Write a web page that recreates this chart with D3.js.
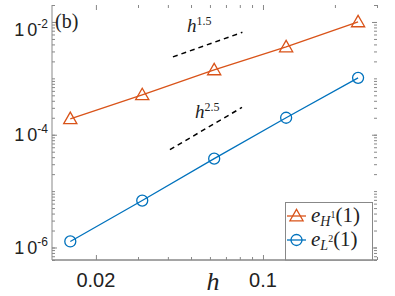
<!DOCTYPE html>
<html>
<head>
<meta charset="utf-8">
<script src="https://cdn.jsdelivr.net/npm/d3@7"></script>
<style>
  body { margin: 0; background: white; }
  .tick line { stroke: #888; }
  text { fill: #222; }
</style>
</head>
<body>
<div id="chart"></div>
<script>
var width = 395;
var height = 296;

// mesh sizes
var hValues = [1/64, 1/32, 1/16, 1/8, 1/4];
// errors
var errH1 = [1.92e-4, 5.1e-4, 1.41e-3, 3.6e-3, 1.0e-2];
var errL2 = [1.28e-6, 6.8e-6, 3.76e-5, 2.0e-4, 1.02e-3];

// slope guides (two end points each)
var guide15X = [0.042, 0.082];
var guide15Y = [2.4e-3, 6.55e-3];
var guide25X = [0.0408, 0.0817];
var guide25Y = [5.43e-5, 3.05e-4];

var xMajor = [0.02, 0.1];
var xMajorLabels = ["0.02", "0.1"];
var xMinor = [0.03, 0.04, 0.05, 0.06, 0.07, 0.08, 0.09, 0.2, 0.3];
var yMajor = [1e-6, 1e-4, 1e-2];
var yMajorExp = ["-6", "-4", "-2"];

var orange = "#D95319";
var blue = "#0072BD";
var axisGray = "#888";

var x = d3.scaleLog().domain([0.0131, 0.3]).range([52, 377]);
var y = d3.scaleLog().domain([6e-7, 2e-2]).range([260, 5]);

// minor ticks on y: k * 10^n inside the domain
var yMinor = [];
for (var n = -7; n <= -2; n++) {
  for (var k = 1; k <= 9; k++) {
    var v = k * Math.pow(10, n);
    if (v >= 6e-7 && v <= 2e-2) yMinor.push(v);
  }
}

var svg = d3.select("#chart")
  .append("svg")
  .attr("width", width)
  .attr("height", height);
svg.append("rect")
  .attr("width", "100%")
  .attr("height", "100%")
  .attr("fill", "white");

// ticks on all four sides, pointing inwards
function ticks(axis, vals, size, transform) {
  var g = svg.append("g")
    .attr("transform", transform)
    .call(axis.tickValues(vals).tickSize(-size).tickSizeOuter(0).tickFormat(""));
  g.select(".domain").remove();
  return g;
}
ticks(d3.axisBottom(x), xMinor, 3, "translate(0,260)");
ticks(d3.axisBottom(x), xMajor, 5, "translate(0,260)");
ticks(d3.axisTop(x), xMinor, 3, "translate(0,5)");
ticks(d3.axisTop(x), xMajor, 5, "translate(0,5)");
ticks(d3.axisLeft(y), yMinor, 3, "translate(52,0)");
ticks(d3.axisLeft(y), yMajor, 5, "translate(52,0)");
ticks(d3.axisRight(y), yMinor, 3, "translate(377,0)");
ticks(d3.axisRight(y), yMajor, 5, "translate(377,0)");

// left and bottom axis lines
svg.append("line").attr("x1", 52).attr("x2", 52).attr("y1", 5).attr("y2", 260)
  .attr("stroke", axisGray).attr("stroke-width", 1);
svg.append("line").attr("x1", 52).attr("x2", 377).attr("y1", 260).attr("y2", 260)
  .attr("stroke", axisGray).attr("stroke-width", 1);

// x tick labels
svg.selectAll(".xlab")
  .data(xMajor)
  .enter()
  .append("text")
  .attr("class", "xlab")
  .attr("x", function(d) { return x(d); })
  .attr("y", 287)
  .attr("text-anchor", "middle")
  .style("font-family", "Liberation Sans, Arial, sans-serif")
  .style("font-size", "20px")
  .text(function(d, i) { return xMajorLabels[i]; });

// y tick labels 10^n (the top one sits a little lower, as in the original)
var yLabelShift = [7, 6, 14];
var ylab = svg.selectAll(".ylab")
  .data(yMajor)
  .enter()
  .append("text")
  .attr("class", "ylab")
  .attr("x", 48)
  .attr("y", function(d, i) { return y(d) + yLabelShift[i]; })
  .attr("text-anchor", "end")
  .style("font-family", "Liberation Sans, Arial, sans-serif");
ylab.append("tspan")
  .style("font-size", "18px")
  .attr("letter-spacing", "3px")
  .text("1");
ylab.append("tspan")
  .style("font-size", "18px")
  .text("0");
ylab.append("tspan")
  .style("font-size", "12px")
  .attr("dy", -8)
  .text(function(d, i) { return yMajorExp[i]; });

// x axis label
svg.append("text")
  .attr("x", 213)
  .attr("y", 290)
  .attr("text-anchor", "middle")
  .style("font-family", "Liberation Serif, serif")
  .style("font-style", "italic")
  .style("font-size", "26px")
  .text("h");

// panel label
svg.append("text")
  .attr("x", 55)
  .attr("y", 28)
  .style("font-family", "Liberation Serif, serif")
  .style("font-size", "20px")
  .text("(b)");

// guide lines
var line = d3.line()
  .x(function(d) { return x(d[0]); })
  .y(function(d) { return y(d[1]); });

svg.append("path")
  .attr("d", line(d3.zip(guide15X, guide15Y)))
  .attr("fill", "none")
  .attr("stroke", "black")
  .attr("stroke-width", 1.5)
  .attr("stroke-dasharray", "5,4");
svg.append("path")
  .attr("d", line(d3.zip(guide25X, guide25Y)))
  .attr("fill", "none")
  .attr("stroke", "black")
  .attr("stroke-width", 1.5)
  .attr("stroke-dasharray", "5,4");

function powerLabel(px, py, exp) {
  var t = svg.append("text")
    .attr("x", px)
    .attr("y", py)
    .style("font-family", "Liberation Serif, serif");
  t.append("tspan").style("font-style", "italic").style("font-size", "19px").text("h");
  t.append("tspan").style("font-size", "12px").attr("dy", -7).text(exp);
}
powerLabel(187, 32, "1.5");
powerLabel(195, 118, "2.5");

// data series
var tri = d3.symbol().type(d3.symbolTriangle).size(75);

svg.append("path")
  .attr("d", line(d3.zip(hValues, errH1)))
  .attr("fill", "none")
  .attr("stroke", orange)
  .attr("stroke-width", 1.3);
svg.selectAll(".tri")
  .data(d3.zip(hValues, errH1))
  .enter()
  .append("path")
  .attr("class", "tri")
  .attr("d", tri)
  .attr("transform", function(d) { return "translate(" + x(d[0]) + "," + (y(d[1]) + 1) + ")"; })
  .attr("fill", "none")
  .attr("stroke", orange)
  .attr("stroke-width", 1.3);

svg.append("path")
  .attr("d", line(d3.zip(hValues, errL2)))
  .attr("fill", "none")
  .attr("stroke", blue)
  .attr("stroke-width", 1.3);
svg.selectAll(".circ")
  .data(d3.zip(hValues, errL2))
  .enter()
  .append("circle")
  .attr("class", "circ")
  .attr("cx", function(d) { return x(d[0]); })
  .attr("cy", function(d) { return y(d[1]); })
  .attr("r", 5.5)
  .attr("fill", "none")
  .attr("stroke", blue)
  .attr("stroke-width", 1.3);

// legend (its lower edge sits on the x axis line)
var legend = svg.append("g");
legend.append("rect")
  .attr("x", 285.5)
  .attr("y", 202.5)
  .attr("width", 87)
  .attr("height", 57.5)
  .attr("fill", "white")
  .attr("stroke", axisGray)
  .attr("stroke-width", 1);

var entries = [
  { color: orange, shape: "tri", sub: "H", sup: "1", y: 216 },
  { color: blue, shape: "circ", sub: "L", sup: "2", y: 240 }
];
entries.forEach(function(e) {
  legend.append("line")
    .attr("x1", 287).attr("x2", 306)
    .attr("y1", e.y).attr("y2", e.y)
    .attr("stroke", e.color).attr("stroke-width", 1.3);
  if (e.shape == "tri") {
    legend.append("path")
      .attr("d", tri)
      .attr("transform", "translate(296.5," + (e.y + 1) + ")")
      .attr("fill", "none").attr("stroke", e.color).attr("stroke-width", 1.3);
  } else {
    legend.append("circle")
      .attr("cx", 296.5).attr("cy", e.y).attr("r", 5.5)
      .attr("fill", "none").attr("stroke", e.color).attr("stroke-width", 1.3);
  }
  var t = legend.append("text")
    .attr("x", 311)
    .attr("y", e.y + 6)
    .style("font-family", "Liberation Serif, serif")
    .style("font-size", "21px");
  t.append("tspan").style("font-style", "italic").text("e");
  t.append("tspan").style("font-style", "italic").style("font-size", "14px").attr("dy", 4).text(e.sub);
  t.append("tspan").style("font-size", "10px").attr("dy", -8).text(e.sup);
  t.append("tspan").attr("dy", 4).text("(1)");
});

// redraw the bottom axis line over the legend edge
svg.append("line").attr("x1", 52).attr("x2", 377).attr("y1", 260).attr("y2", 260)
  .attr("stroke", axisGray).attr("stroke-width", 1);
</script>
</body>
</html>
